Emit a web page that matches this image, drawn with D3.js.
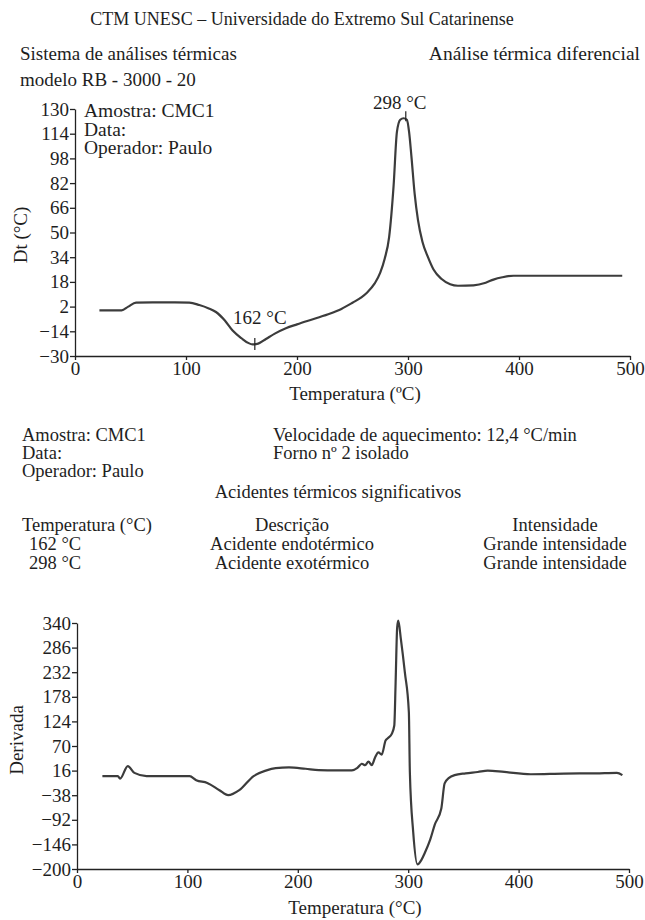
<!DOCTYPE html>
<html><head><meta charset="utf-8">
<script src="https://cdn.jsdelivr.net/npm/d3@7/dist/d3.min.js"></script>
<style>
html,body{margin:0;padding:0;background:#fff;}
svg{display:block;}
text{font-family:"Liberation Serif","Times New Roman",serif;fill:#1e1e1e;}
</style></head>
<body><div id="chart"></div>
<script>
// ---------- DATA ----------
const dtaTemp = [22,30,42,48,55,70,90,103,112,120,127,135,142,150,156,160,165,172,180,190,200,215,230,240,250,258,263,270,275,279,283,287,290,293,296,299,301,303,306,309,313,318,323,330,338,345,359,370,377,385,395,420,460,493];
const dtaValue = [-0.5,-0.5,-0.5,2,4.6,4.8,4.8,4.6,3,1,-1.5,-7,-13.5,-18.5,-21.5,-22.5,-22,-19,-15.5,-12,-9.5,-6,-2.5,0.5,4.5,8,11,17,24,33,47,80,115,123,124,123,115,100,75,58,44,34,26,20,16.5,15.5,15.8,17.5,19.5,21,22,22,22,22];
const derTemp = [23,30,37,39,46,52,63,80,102,108,118,129,137,147,160,171,180,192,207,219,235,249,254,258,261,264,267,270,273,276,279.5,282,285,287.4,288.6,290,291,293.4,297,300.6,301.5,304.5,308.4,312,315,320,324,330,333,337,342,352,363,372,387,411,441,470,489,494];
const derValue = [4,4,4,-1.5,26,11,4,4,4,-5,-11,-27,-38,-27,4,16,21.5,23,20,17,16.5,16.5,22,31,28,36,28,45,56,51,82,88,96,115,209,330,345,304,231,144,13,-118,-190,-180,-165,-135,-103,-67,-12,0,6,10,13,16,13,8,9.5,10,11,6];
const xTicks = [0,100,200,300,400,500];
const dtaTicks = [-30,-14,2,18,34,50,66,82,98,114,130];
const derTicks = [-200,-146,-92,-38,16,70,124,178,232,286,340];
const peakLabels = [{t:162, label:"162 °C"},{t:298, label:"298 °C"}];
const eventRows = [["162 °C","Acidente endotérmico","Grande intensidade"],["298 °C","Acidente exotérmico","Grande intensidade"]];

// ---------- DRAW ----------
const W = 645, H = 920;
const svg = d3.select("#chart").append("svg").attr("width", W).attr("height", H);
const FS = 19;
function txt(x, y, s, anchor="start", size=FS, rot=0) {
  const t = svg.append("text").attr("x", x).attr("y", y).attr("text-anchor", anchor)
    .attr("font-size", size).text(s);
  if (rot) t.attr("transform", `rotate(${rot},${x},${y})`);
  return t;
}
const lineColor = "#3c3c3c";

// header
txt(302, 25, "CTM UNESC – Universidade do Extremo Sul Catarinense", "middle", 18);
txt(20, 60, "Sistema de análises térmicas");
txt(640, 60, "Análise térmica diferencial", "end", 19.5);
txt(20, 86, "modelo RB - 3000 - 20");

function drawChart(opt) {
  const x = d3.scaleLinear().domain([0,500]).range([opt.x0, opt.x1]);
  const y = d3.scaleLinear().domain(opt.yDomain).range([opt.yb, opt.yt]);
  const gx = svg.append("g").attr("transform", `translate(0,${opt.yb})`)
    .call(d3.axisBottom(x).tickValues(xTicks).tickSize(4).tickSizeOuter(0).tickPadding(2).tickFormat(d3.format("d")));
  const gy = svg.append("g").attr("transform", `translate(${opt.x0},0)`)
    .call(d3.axisLeft(y).tickValues(opt.ticks).tickSize(5).tickSizeOuter(0).tickPadding(1).tickFormat(d3.format("d")));
  [gx, gy].forEach(g => {
    g.attr("font-family", null);
    g.selectAll("path,line").attr("stroke", "#222").attr("stroke-width", 1.3);
    g.selectAll("text").attr("font-size", FS).attr("fill", "#1e1e1e")
      .style("font-family", '"Liberation Serif","Times New Roman",serif');
  });
  const line = d3.line().x((d,i) => x(opt.tx[i])).y((d) => y(d)).curve(d3.curveMonotoneX);
  svg.append("path").datum(opt.vals).attr("d", line).attr("fill", "none")
    .attr("stroke", lineColor).attr("stroke-width", 2.2).attr("stroke-linejoin", "round");
  return {x, y};
}

const dtaChart = drawChart({x0:75, x1:630, yb:356, yt:109, yDomain:[-30,130], ticks:dtaTicks, tx:dtaTemp, vals:dtaValue});
txt(20, 235, "Dt (°C)", "middle", FS, -90).attr("dy", "0.35em");
txt(355, 400, "Temperatura (ºC)", "middle");
txt(84, 117, "Amostra: CMC1", "start", 19.5);
txt(84, 135.5, "Data:", "start", 19.5);
txt(84, 154, "Operador: Paulo", "start", 19.5);
// peak markers
const interp = d3.scaleLinear().domain(dtaTemp).range(dtaValue);
peakLabels.forEach(p => {
  const v = interp(p.t);
  const px = dtaChart.x(p.t), py = dtaChart.y(v);
  if (p.t < 200) {
    svg.append("line").attr("x1", px).attr("x2", px).attr("y1", py-6).attr("y2", py+6).attr("stroke", "#222").attr("stroke-width", 1.2);
    txt(px+5, py-20, p.label, "middle", 19);
  } else {
    svg.append("line").attr("x1", px).attr("x2", px).attr("y1", py-8).attr("y2", py+2).attr("stroke", "#222").attr("stroke-width", 1.2);
    txt(px-6, py-10, p.label, "middle", 19);
  }
});

// middle text block
txt(22, 441, "Amostra: CMC1", "start", 18.5);
txt(22, 459, "Data:", "start", 18.5);
txt(22, 477, "Operador: Paulo", "start", 18.5);
txt(273, 441, "Velocidade de aquecimento: 12,4 °C/min", "start", 18.5);
txt(273, 459, "Forno nº 2 isolado", "start", 18.5);
txt(338, 498, "Acidentes térmicos significativos", "middle", 18.5);
txt(22, 531, "Temperatura (°C)", "start", 18.5);
txt(292, 531, "Descrição", "middle", 18.5);
txt(555, 531, "Intensidade", "middle", 18.5);
eventRows.forEach((r, i) => {
  const yy = 550 + i*19;
  txt(29, yy, r[0], "start", 18.5);
  txt(292, yy, r[1], "middle", 18.5);
  txt(555, yy, r[2], "middle", 18.5);
});

const derChart = drawChart({x0:77, x1:629, yb:869, yt:623, yDomain:[-200,340], ticks:derTicks, tx:derTemp, vals:derValue});
txt(16, 740, "Derivada", "middle", FS, -90).attr("dy", "0.35em");
txt(355, 914, "Temperatura (°C)", "middle");
</script></body></html>
